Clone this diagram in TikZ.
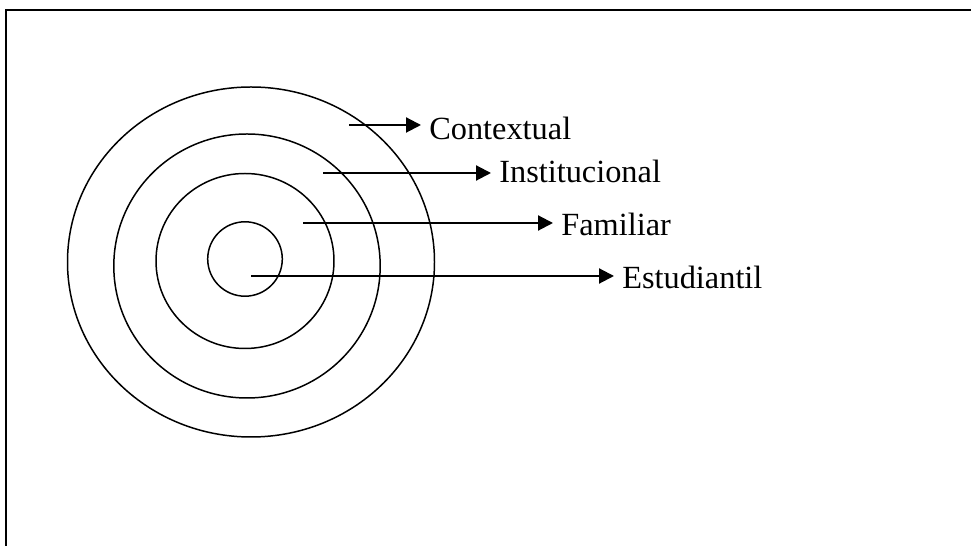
\documentclass[tikz,border=0pt]{standalone}
\usepackage{fontspec}
\setmainfont{Liberation Serif}
\usetikzlibrary{positioning, arrows.meta, calc}

\tikzset{
  ring/.style={line width=0.85pt},
  arr/.style={line width=1.2pt, -{Triangle[length=0.3cm, width=0.3cm]}},
  lbl/.style={anchor=base west, inner xsep=0.16cm, inner ysep=0pt,
    font=\fontsize{18.4}{22}\selectfont},
}

\begin{document}
\begin{tikzpicture}[x=0.02cm, y=-0.02cm]
\useasboundingbox (0,0) rectangle (971,546);
% frame
\draw[line width=1.2pt] (971,10) -- (6,10) -- (6,546);

% rings
\draw[ring] (245,259) ellipse (37.3 and 37.2);
\draw[ring] (245,261) ellipse (89 and 87.5);
\draw[ring] (247,266) ellipse (133.2 and 132);
\draw[ring] (251,262) ellipse (183.5 and 175);

% labels
\node[lbl] (ctx) at (421,140) {Contextual};
\node[lbl] (ins) at (491,183) {Institucional};
\node[lbl] (fam) at (553,236) {Familiar};
\node[lbl] (est) at (614,289) {Estudiantil};

% arrows
\coordinate (c1) at (349,125);
\coordinate (c2) at (323,173);
\coordinate (c3) at (303,223);
\coordinate (c4) at (251,276);
\draw[arr] (c1) -- (c1 -| ctx.west);
\draw[arr] (c2) -- (c2 -| ins.west);
\draw[arr] (c3) -- (c3 -| fam.west);
\draw[arr] (c4) -- (c4 -| est.west);
\end{tikzpicture}
\end{document}
